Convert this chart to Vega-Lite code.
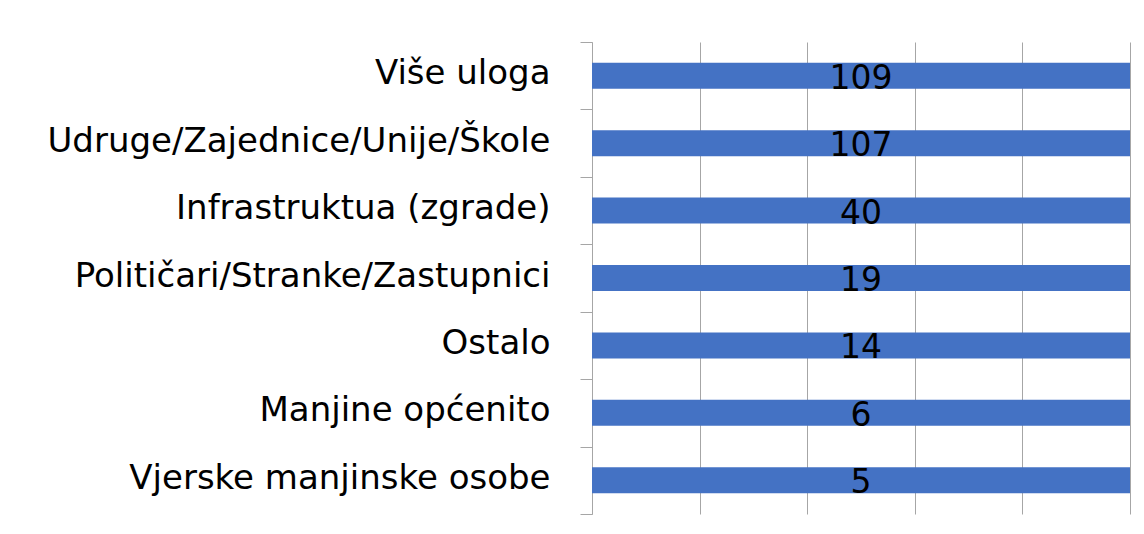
{
  "$schema": "https://vega.github.io/schema/vega-lite/v6.json",
  "width": 538,
  "height": 472,
  "autosize": {"type": "none"},
  "padding": {"left": 592, "top": 42, "right": 14, "bottom": 20},
  "background": "white",
  "data": {
    "values": [
      {"kategorija": "Više uloga", "broj": 109},
      {"kategorija": "Udruge/Zajednice/Unije/Škole", "broj": 107},
      {"kategorija": "Infrastruktua (zgrade)", "broj": 40},
      {"kategorija": "Političari/Stranke/Zastupnici", "broj": 19},
      {"kategorija": "Ostalo", "broj": 14},
      {"kategorija": "Manjine općenito", "broj": 6},
      {"kategorija": "Vjerske manjinske osobe", "broj": 5}
    ]
  },
  "config": {
    "view": {"stroke": null},
    "font": "DejaVu Sans"
  },
  "encoding": {
    "y": {
      "field": "kategorija",
      "type": "nominal",
      "sort": null,
      "title": null,
      "scale": {"paddingInner": 0, "paddingOuter": 0},
      "axis": {
        "labelFont": "DejaVu Sans",
        "labelFontSize": 34,
        "labelColor": "#000000",
        "labelLimit": 0,
        "labelPadding": 30,
        "labelBaseline": "alphabetic",
        "labelOffset": 8,
        "tickBand": "extent",
        "tickSize": 12,
        "tickColor": "#a6a6a6",
        "domainColor": "#a6a6a6",
        "grid": false
      }
    }
  },
  "layer": [
    {
      "mark": {"type": "bar", "color": "#4472C4", "height": {"band": 0.386}},
      "encoding": {
        "x": {
          "field": "broj",
          "type": "quantitative",
          "stack": "normalize",
          "title": null,
          "scale": {"domain": [0, 1], "nice": false},
          "axis": {
            "labels": false,
            "ticks": false,
            "domain": false,
            "grid": true,
            "gridColor": "#a6a6a6",
            "gridWidth": 1,
            "values": [0, 0.2, 0.4, 0.6, 0.8, 1]
          }
        }
      }
    },
    {
      "mark": {"type": "text", "font": "DejaVu Sans", "fontSize": 33, "color": "#000000", "align": "center", "baseline": "alphabetic", "dy": 13},
      "encoding": {
        "x": {"datum": 0.5, "type": "quantitative"},
        "text": {"field": "broj", "type": "quantitative"}
      }
    }
  ]
}
